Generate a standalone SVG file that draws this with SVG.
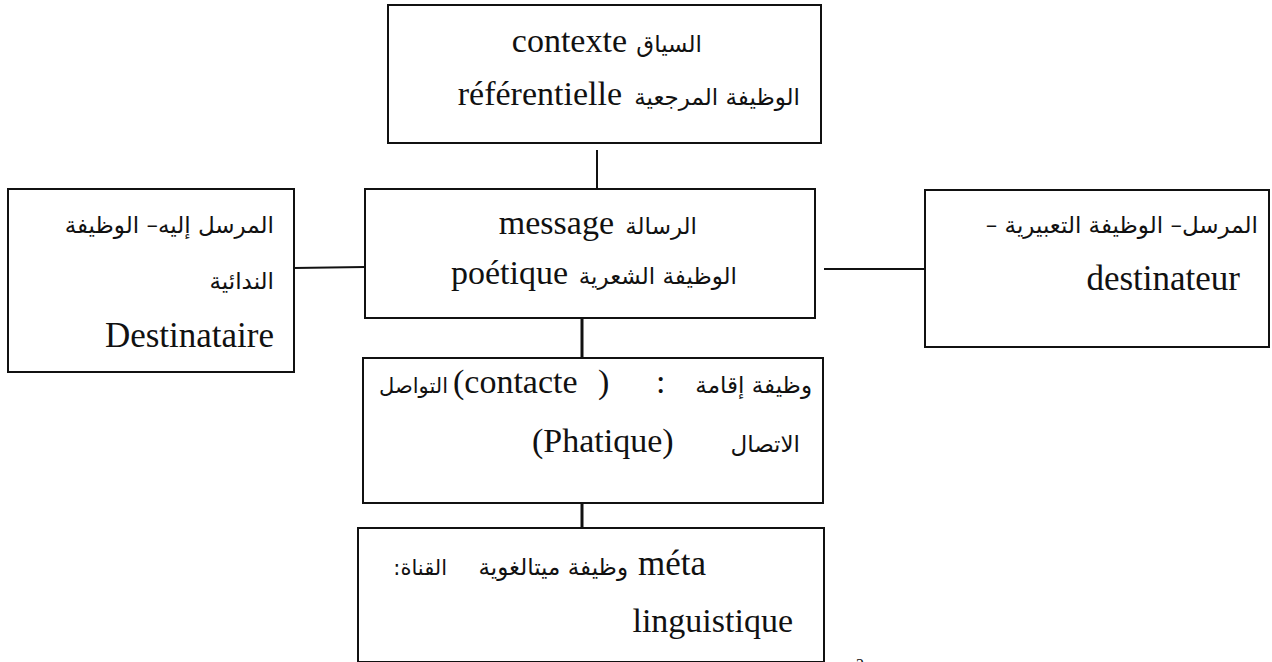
<svg xmlns="http://www.w3.org/2000/svg" width="1272" height="662" viewBox="0 0 1272 662">
  <style>
    .box { fill: #ffffff; stroke: #111111; stroke-width: 2; }
    .link { stroke: #111111; stroke-width: 2; fill: none; }
    .link.thick { stroke-width: 3; }
    .lat { font-family: "Liberation Serif", "DejaVu Serif", serif; font-size: 34px; fill: #111111; }
    .ar { font-family: "DejaVu Sans", "Noto Sans", sans-serif; font-size: 23px; fill: #111111; }
    .ar.sm { font-size: 21px; }
  </style>
  <rect width="1272" height="662" fill="#ffffff"/>

  <!-- connectors -->
  <g id="connectors">
    <line class="link" x1="597" y1="150" x2="597" y2="188"/>
    <line class="link" x1="294" y1="268" x2="365" y2="267"/>
    <line class="link" x1="824" y1="269" x2="925" y2="269"/>
    <line class="link thick" x1="582" y1="318" x2="582" y2="358"/>
    <line class="link thick" x1="582" y1="503" x2="582" y2="528"/>
  </g>

  <!-- context / referential function -->
  <g id="node-context">
    <rect class="box" x="388" y="5" width="433" height="138"/>
    <text class="lat" x="627" y="52" text-anchor="end">contexte</text>
    <text class="ar" x="702" y="52" direction="rtl" text-anchor="start">السياق</text>
    <text class="lat" x="622" y="105" text-anchor="end">référentielle</text>
    <text class="ar" x="800" y="105" direction="rtl" text-anchor="start">الوظيفة المرجعية</text>
  </g>

  <!-- message / poetic function -->
  <g id="node-message">
    <rect class="box" x="365" y="189" width="450" height="129"/>
    <text class="lat" x="614" y="234" text-anchor="end">message</text>
    <text class="ar" x="697" y="234" direction="rtl" text-anchor="start">الرسالة</text>
    <text class="lat" x="568" y="284" text-anchor="end">poétique</text>
    <text class="ar" x="737" y="284" direction="rtl" text-anchor="start">الوظيفة الشعرية</text>
  </g>

  <!-- addressee / conative function -->
  <g id="node-addressee">
    <rect class="box" x="8" y="189" width="286" height="183"/>
    <text class="ar" x="274" y="233" direction="rtl" text-anchor="start">المرسل إليه– الوظيفة</text>
    <text class="ar" x="274" y="289" direction="rtl" text-anchor="start">الندائية</text>
    <text class="lat" x="274" y="347" text-anchor="end" style="font-size:35px">Destinataire</text>
  </g>

  <!-- addresser / emotive function -->
  <g id="node-addresser">
    <rect class="box" x="925" y="190" width="344" height="157"/>
    <text class="ar" x="1258" y="233" direction="rtl" text-anchor="start">المرسل– الوظيفة التعبيرية –</text>
    <text class="lat" x="1240" y="290" text-anchor="end" style="font-size:35px">destinateur</text>
  </g>

  <!-- contact / phatic function -->
  <g id="node-contact">
    <rect class="box" x="363" y="358" width="460" height="145"/>
    <text class="ar sm" x="448" y="393" direction="rtl" text-anchor="start">التواصل</text>
    <text class="lat" x="453" y="393">(contacte</text>
    <text class="lat" x="598" y="393">)</text>
    <text class="lat" x="656" y="393">:</text>
    <text class="ar" x="812" y="393" direction="rtl" text-anchor="start">وظيفة إقامة</text>
    <text class="ar" x="800" y="452" direction="rtl" text-anchor="start">الاتصال</text>
    <text class="lat" x="532" y="452">(Phatique)</text>
  </g>

  <!-- channel / metalinguistic function -->
  <g id="node-channel">
    <rect class="box" x="358" y="528" width="466" height="134"/>
    <text class="ar sm" x="447" y="575" direction="rtl" text-anchor="start">القناة:</text>
    <text class="ar" x="628" y="575" direction="rtl" text-anchor="start">وظيفة ميتالغوية</text>
    <text class="lat" x="638" y="575" style="font-size:35px">méta</text>
    <text class="lat" x="793" y="632" text-anchor="end">linguistique</text>
  </g>

  <!-- page number, cut by the lower edge -->
  <text class="lat" x="860" y="670" text-anchor="middle" style="font-size:16px">2</text>
</svg>
